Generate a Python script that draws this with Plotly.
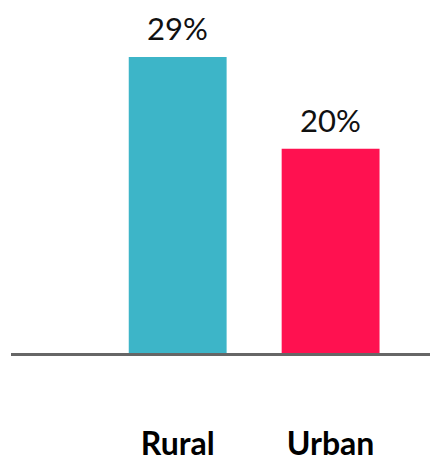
import plotly.graph_objects as go

# Share by area type
categories = ["Rural", "Urban"]
values = [29, 20]
colors = ["#3db5c8", "#ff1150"]

fig = go.Figure()
fig.add_trace(go.Bar(
    x=categories,
    y=values,
    marker=dict(color=colors, line=dict(width=0)),
    width=0.64,
    hoverinfo="skip",
))

# Value labels above each bar
for cat, val in zip(categories, values):
    fig.add_annotation(
        x=cat, y=val, text=f"{val}%",
        showarrow=False, yanchor="bottom", yshift=8,
        font=dict(family="Lato", size=31, color="#111111", weight=400),
    )

fig.update_layout(
    width=430, height=461,
    margin=dict(l=11, r=0, t=10, b=108, autoexpand=False),
    paper_bgcolor="white", plot_bgcolor="white",
    showlegend=False,
    xaxis=dict(
        type="category",
        range=[-1.09, 1.65],
        automargin=False,
        showline=True, linecolor="#666666", linewidth=3,
        showgrid=False, zeroline=False, ticks="",
        ticklabelstandoff=61,
        tickfont=dict(family="Lato", size=32, color="#000000", weight=700),
    ),
    yaxis=dict(
        range=[0, 33.6],
        visible=False, showgrid=False, zeroline=False,
    ),
)

fig.write_html("out.html")
